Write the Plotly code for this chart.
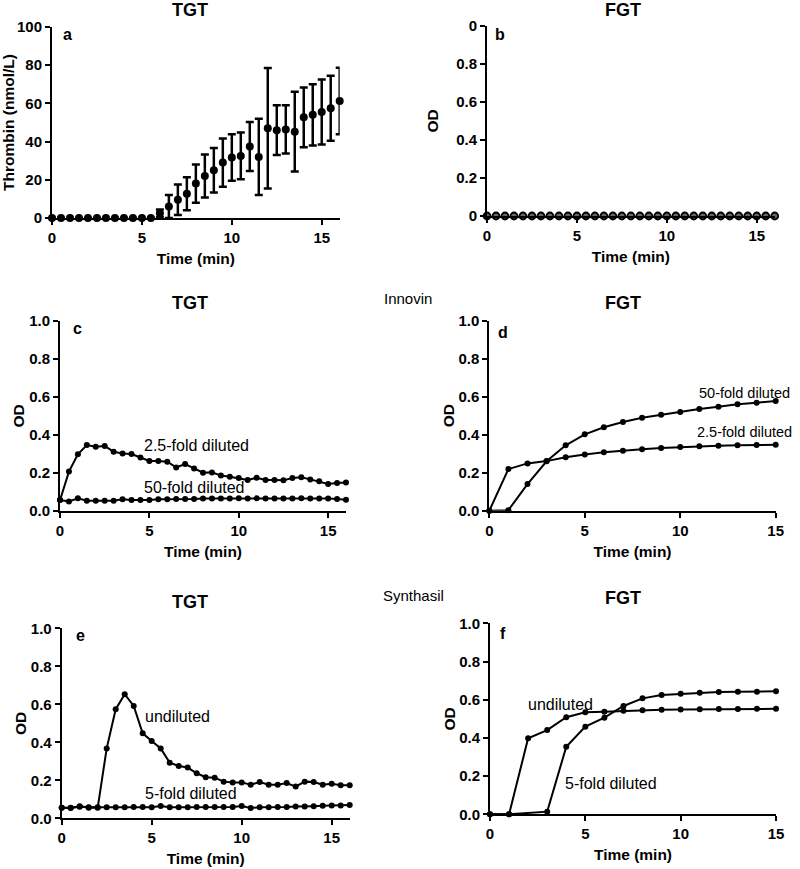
import plotly.graph_objects as go

# ---- data ----
t_half = [i * 0.5 for i in range(33)]  # 0 .. 16 min, 0.5 min steps
t_min = list(range(16))  # 0 .. 15 min

# a: TGT thrombin (nmol/L), mean and SD
tgt_thrombin = [0, 0, 0, 0, 0, 0, 0, 0, 0, 0, 0, 0, 2.5, 6, 9.6, 12.7, 18, 22, 25, 29,
                31.7, 32.5, 37.4, 32, 47, 46, 46.4, 45.2, 52.7, 54, 55.5, 57.5, 61.2]
tgt_thrombin_sd = [0, 0, 0, 0, 0, 0, 0, 0, 0, 0, 0, 0, 2, 6, 8, 8.7, 10, 11.3, 11.7, 12.6,
                   12.2, 12.2, 12.8, 20, 31.5, 13, 12.6, 20.9, 15.6, 16, 17, 17, 17.4]

# b: FGT, no signal
fgt_b = [0] * 33

# c: TGT Innovin
tgt_innovin_25 = [0.056, 0.206, 0.297, 0.346, 0.337, 0.341, 0.311, 0.302, 0.299, 0.28,
                  0.262, 0.262, 0.258, 0.228, 0.246, 0.223, 0.2, 0.202, 0.185, 0.179,
                  0.172, 0.162, 0.174, 0.162, 0.162, 0.16, 0.172, 0.176, 0.165, 0.155,
                  0.141, 0.146, 0.149]
tgt_innovin_50 = [0.056, 0.049, 0.065, 0.053, 0.053, 0.053, 0.053, 0.06, 0.056, 0.056,
                  0.056, 0.06, 0.06, 0.062, 0.062, 0.062, 0.064, 0.064, 0.064, 0.064,
                  0.065, 0.064, 0.065, 0.064, 0.064, 0.064, 0.064, 0.066, 0.064, 0.064,
                  0.064, 0.062, 0.058]

# d: FGT Innovin
fgt_innovin_50 = [0, 0.003, 0.14, 0.26, 0.344, 0.402, 0.439, 0.467, 0.489, 0.505, 0.519,
                  0.535, 0.547, 0.56, 0.568, 0.577]
fgt_innovin_25 = [0, 0.219, 0.249, 0.261, 0.281, 0.296, 0.307, 0.316, 0.323, 0.33, 0.335,
                  0.339, 0.342, 0.344, 0.346, 0.347]

# e: TGT Synthasil
tgt_synth_undil = [0.056, 0.056, 0.063, 0.056, 0.056, 0.368, 0.574, 0.653, 0.591, 0.447,
                   0.407, 0.368, 0.293, 0.275, 0.267, 0.237, 0.216, 0.214, 0.193, 0.189,
                   0.189, 0.177, 0.191, 0.177, 0.177, 0.186, 0.167, 0.193, 0.191, 0.177,
                   0.182, 0.174, 0.174]
tgt_synth_5 = [0.056, 0.054, 0.061, 0.058, 0.058, 0.058, 0.058, 0.058, 0.06, 0.06,
               0.058, 0.065, 0.058, 0.058, 0.058, 0.06, 0.06, 0.06, 0.06, 0.06,
               0.065, 0.054, 0.058, 0.058, 0.06, 0.06, 0.062, 0.062, 0.064, 0.066,
               0.068, 0.068, 0.07]

# f: FGT Synthasil
t_f_undil = list(range(16))
fgt_synth_undil = [0, 0, 0.398, 0.441, 0.508, 0.534, 0.537, 0.542, 0.545, 0.548, 0.549,
                   0.55, 0.551, 0.551, 0.552, 0.552]
t_f_5 = [0, 1, 3, 4, 5, 6, 7, 8, 9, 10, 11, 12, 13, 14, 15]
fgt_synth_5 = [0, 0, 0.014, 0.354, 0.459, 0.506, 0.567, 0.607, 0.625, 0.631, 0.637,
               0.64, 0.641, 0.642, 0.644]

W, H = 800, 869
FONT = "Liberation Sans, Arial, sans-serif"


def px(x):
    return x / W


def py(y):
    return 1 - y / H


# panel frames in pixels: (left, right, top, bottom)
frames = {
    1: (52, 339.7, 27, 218),
    2: (487, 774.7, 25.7, 216),
    3: (60, 346, 321, 510.7),
    4: (489.3, 775.7, 320.7, 510.7),
    5: (61.7, 349.7, 628.3, 818.3),
    6: (490, 776, 623.3, 814.3),
}

fig = go.Figure()


def line_trace(x, y, n, size=6):
    fig.add_trace(go.Scatter(
        x=x, y=y, mode="lines+markers",
        line=dict(color="black", width=2),
        marker=dict(color="black", size=size),
        cliponaxis=False, showlegend=False,
        xaxis=f"x{n}", yaxis=f"y{n}",
    ))


# a
fig.add_trace(go.Scatter(
    x=t_half, y=tgt_thrombin, mode="markers",
    marker=dict(color="black", size=8),
    error_y=dict(type="data", array=tgt_thrombin_sd, color="black",
                 thickness=2.5, width=4),
    cliponaxis=False, showlegend=False, xaxis="x1", yaxis="y1",
))
# b
fig.add_trace(go.Scatter(
    x=t_half, y=fgt_b, mode="markers",
    marker=dict(color="#666666", size=7, line=dict(color="black", width=1.8)),
    cliponaxis=False, showlegend=False, xaxis="x2", yaxis="y2",
))
# c
line_trace(t_half, tgt_innovin_25, 3)
line_trace(t_half, tgt_innovin_50, 3)
# d
line_trace(t_min, fgt_innovin_50, 4)
line_trace(t_min, fgt_innovin_25, 4)
# e
line_trace(t_half, tgt_synth_undil, 5)
line_trace(t_half, tgt_synth_5, 5)
# f
line_trace(t_f_undil, fgt_synth_undil, 6)
line_trace(t_f_5, fgt_synth_5, 6)

axis_common = dict(
    showline=True, linecolor="black", linewidth=2,
    ticks="outside", ticklen=5, tickwidth=2, tickcolor="black",
    showgrid=False, zeroline=False, automargin=False,
    tickfont=dict(family=FONT, size=15, color="black", weight="bold"),
    title_font=dict(family=FONT, size=15.5, color="black", weight="bold"),
)

x_ranges = {1: 16, 2: 16, 3: 16, 4: 15, 5: 16, 6: 15}
y_standoff = {1: 9, 2: 14, 3: 1, 4: 0, 5: 0, 6: 0}
layout_axes = {}
for n, (l, r, t, b) in frames.items():
    layout_axes[f"xaxis{n}"] = dict(
        axis_common, domain=[px(l), px(r)], anchor=f"y{n}",
        range=[0, x_ranges[n]], tickvals=[0, 5, 10, 15],
        title=dict(text="Time (min)", standoff=8),
    )
    if n == 1:
        yax = dict(range=[0, 100], tickvals=[0, 20, 40, 60, 80, 100],
                   title=dict(text="Thrombin (nmol/L)", standoff=y_standoff[n]))
    elif n == 2:
        yax = dict(range=[0, 1], tickvals=[0, 0.2, 0.4, 0.6, 0.8, 1.0],
                   ticktext=["0", "0.2", "0.4", "0.6", "0.8", "0"],
                   title=dict(text="OD", standoff=y_standoff[n]))
    else:
        yax = dict(range=[0, 1], tickvals=[0, 0.2, 0.4, 0.6, 0.8, 1.0],
                   tickformat=".1f", title=dict(text="OD", standoff=y_standoff[n]))
    layout_axes[f"yaxis{n}"] = dict(
        axis_common, domain=[py(b), py(t)], anchor=f"x{n}", **yax
    )

fig.update_layout(**layout_axes)

annotations = []
titles = [("TGT", 190, 10), ("FGT", 623, 10), ("TGT", 190, 303),
          ("FGT", 623, 303), ("TGT", 190, 602), ("FGT", 623, 598)]
for txt, x, y in titles:
    annotations.append(dict(
        text=txt, x=px(x), y=py(y), xref="paper", yref="paper",
        xanchor="center", yanchor="middle", showarrow=False,
        font=dict(family=FONT, size=18, color="black", weight="bold"),
    ))

letters = [("a", 67, 35), ("b", 500, 34), ("c", 77, 328),
           ("d", 503, 332), ("e", 80, 635), ("f", 503, 633)]
for txt, x, y in letters:
    annotations.append(dict(
        text=txt, x=px(x), y=py(y), xref="paper", yref="paper",
        xanchor="center", yanchor="middle", showarrow=False,
        font=dict(family=FONT, size=16, color="black", weight="bold"),
    ))

for txt, x, y in [("Innovin", 408, 298), ("Synthasil", 414, 595)]:
    annotations.append(dict(
        text=txt, x=px(x), y=py(y), xref="paper", yref="paper",
        xanchor="center", yanchor="middle", showarrow=False,
        font=dict(family=FONT, size=15, color="black"),
    ))

series_labels = [
    ("2.5-fold diluted", 3, 4.6, 0.346, 16),
    ("50-fold diluted", 3, 4.6, 0.123, 16),
    ("50-fold diluted", 4, 10.9, 0.618, 14.5),
    ("2.5-fold diluted", 4, 10.75, 0.413, 14.5),
    ("undiluted", 5, 4.5, 0.535, 16),
    ("5-fold diluted", 5, 4.5, 0.132, 16),
    ("undiluted", 6, 1.9, 0.576, 16),
    ("5-fold diluted", 6, 3.85, 0.159, 16),
]
for txt, n, x, y, fs in series_labels:
    annotations.append(dict(
        text=txt, x=x, y=y, xref=f"x{n}", yref=f"y{n}",
        xanchor="left", yanchor="middle", showarrow=False,
        font=dict(family=FONT, size=fs, color="black"),
    ))

fig.update_layout(
    width=W, height=H,
    margin=dict(l=0, r=0, t=0, b=0),
    paper_bgcolor="white", plot_bgcolor="white",
    annotations=annotations,
)

# drop the browser's default body margin so the figure fills the window
fig.write_html(
    "out.html",
    config={"displayModeBar": False},
    post_script="document.body.style.margin = '0';",
)
